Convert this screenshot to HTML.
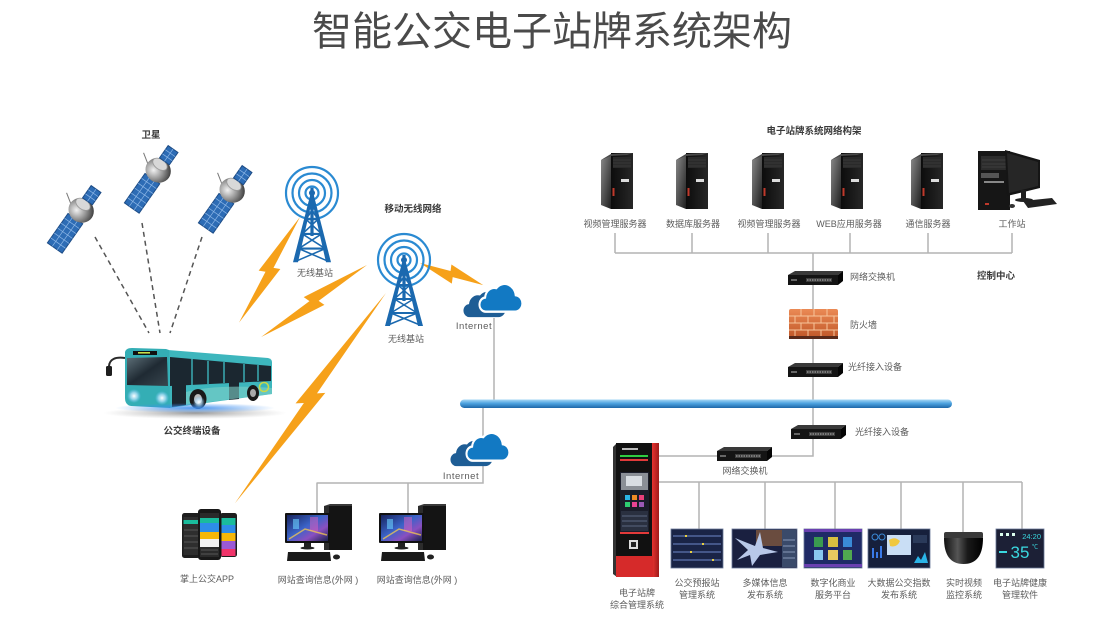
<!DOCTYPE html>
<html><head><meta charset="utf-8">
<style>
html,body{margin:0;padding:0;background:#fff;}
svg{display:block;}
text{font-family:"Liberation Sans","Noto Sans CJK SC",sans-serif;}
.lb{font-size:9px;fill:#5c5c5c;}
.bd{font-size:9.5px;font-weight:bold;fill:#3a3a3a;}
.c{text-anchor:middle;}
</style></head><body>
<svg width="1104" height="637" viewBox="0 0 1104 637" xmlns="http://www.w3.org/2000/svg">
<defs>
<linearGradient id="barG" x1="0" y1="0" x2="0" y2="1"><stop offset="0" stop-color="#a8d8f5"/><stop offset=".45" stop-color="#4da3e0"/><stop offset="1" stop-color="#1d67a8"/></linearGradient>
<linearGradient id="sideG" x1="0" y1="0" x2="1" y2="1"><stop offset="0" stop-color="#8a8a8a"/><stop offset="1" stop-color="#1e1e1e"/></linearGradient>
<linearGradient id="frontG" x1="0" y1="0" x2="1" y2="0"><stop offset="0" stop-color="#0c0c0c"/><stop offset="1" stop-color="#272727"/></linearGradient>
<radialGradient id="satBody" cx=".4" cy=".35" r=".7"><stop offset="0" stop-color="#f2f2f2"/><stop offset=".5" stop-color="#9a9a9a"/><stop offset="1" stop-color="#3a3a3a"/></radialGradient>
<radialGradient id="glow"><stop offset="0" stop-color="#3d8ef0" stop-opacity=".9"/><stop offset="1" stop-color="#3d8ef0" stop-opacity="0"/></radialGradient>
<radialGradient id="hl"><stop offset="0" stop-color="#ffffff" stop-opacity="1"/><stop offset=".5" stop-color="#bfe6ff" stop-opacity=".7"/><stop offset="1" stop-color="#7ac8ff" stop-opacity="0"/></radialGradient>
<radialGradient id="shad"><stop offset="0" stop-color="#444" stop-opacity=".55"/><stop offset="1" stop-color="#888" stop-opacity="0"/></radialGradient>
<linearGradient id="brick" x1="0" y1="0" x2="0" y2="1"><stop offset="0" stop-color="#eb8a55"/><stop offset="1" stop-color="#c2592a"/></linearGradient>
<linearGradient id="scr" x1="0" y1="0" x2="1" y2="1"><stop offset="0" stop-color="#17245e"/><stop offset=".45" stop-color="#3b63c8"/><stop offset=".7" stop-color="#8a4fc0"/><stop offset="1" stop-color="#1a2350"/></linearGradient>
<linearGradient id="wind" x1="0" y1="0" x2="1" y2="1"><stop offset="0" stop-color="#5d6f78"/><stop offset=".5" stop-color="#1f2a33"/><stop offset="1" stop-color="#38464f"/></linearGradient>
<linearGradient id="redS" x1="0" y1="0" x2="1" y2="0"><stop offset="0" stop-color="#e8332f"/><stop offset="1" stop-color="#9e1b1b"/></linearGradient>
<linearGradient id="dome" x1="0" y1="0" x2="1" y2="0"><stop offset="0" stop-color="#111"/><stop offset=".35" stop-color="#555"/><stop offset=".6" stop-color="#1a1a1a"/><stop offset="1" stop-color="#000"/></linearGradient>

<g id="sat">
<line x1="0" y1="-10" x2="8" y2="-22" stroke="#777" stroke-width="1"/>
<rect x="-44" y="-9" width="36" height="18" fill="#2d6cb5" stroke="#1d4c86" stroke-width="1"/>
<path d="M-38,-9V9M-32,-9V9M-26,-9V9M-20,-9V9M-14,-9V9M-44,-3H-8M-44,3H-8" stroke="#8cb6e6" stroke-width=".7"/>
<rect x="-10" y="-2" width="6" height="4" fill="#666"/>
<ellipse cx="2" cy="0" rx="12" ry="13" fill="url(#satBody)"/>
<ellipse cx="8" cy="-2" rx="5" ry="8" fill="#d8d8d8" stroke="#999" stroke-width=".8"/>
<rect x="13" y="-6" width="15" height="12" fill="#2d6cb5" stroke="#1d4c86"/>
<path d="M18,-6V6M23,-6V6M13,0H28" stroke="#8cb6e6" stroke-width=".7"/>
</g>

<g id="rings" fill="none" stroke="#2a8ad2" stroke-width="2.2">
<circle r="26"/><circle r="19.5"/><circle r="13"/><circle r="6.5"/>
</g>
<g id="tw">
<polygon points="-1.5,0 1.5,0 -14,65 -19,65" fill="#1b69af"/>
<polygon points="-1.5,0 1.5,0 19,65 14,65" fill="#1b69af"/>
<rect x="-1.6" y="-6" width="3.2" height="46" fill="#1b69af"/>
<circle cx="0" cy="-1" r="3" fill="#1b69af"/>
<g stroke="#1b69af" stroke-width="2">
<line x1="-3" y1="12" x2="3" y2="12"/><line x1="-6.1" y1="24" x2="6.1" y2="24"/><line x1="-9.6" y1="38" x2="9.6" y2="38"/><line x1="-13.2" y1="52" x2="13.2" y2="52"/>
</g>
<g stroke="#1b69af" stroke-width="1.5">
<line x1="-3" y1="12" x2="6.1" y2="24"/><line x1="3" y1="12" x2="-6.1" y2="24"/>
<line x1="-6.1" y1="24" x2="9.6" y2="38"/><line x1="6.1" y1="24" x2="-9.6" y2="38"/>
<line x1="-9.6" y1="38" x2="13.2" y2="52"/><line x1="9.6" y1="38" x2="-13.2" y2="52"/>
<line x1="-13.2" y1="52" x2="16" y2="64"/><line x1="13.2" y1="52" x2="-16" y2="64"/>
</g>
</g>

<path id="cl" d="M7,26 A6,6 0 0 1 6,14 A9,9 0 0 1 17,6 A11,11 0 0 1 36,12 A7,7 0 0 1 35,26 Z"/>
<path id="bolt" d="M0,0 L2.5,47 L9,45 L0,100 L-2.5,53 L-9,55 Z" fill="#f6a11a"/>

<g id="sv">
<polygon points="0,8 10,2 10,57 0,53" fill="url(#sideG)"/>
<rect x="10" y="1" width="22" height="56" fill="url(#frontG)"/>
<polygon points="0,8 10,2 32,1 26,3 10,4" fill="#4a4a4a"/>
<rect x="12" y="5" width="18" height="11" fill="#2a2a2a"/>
<path d="M12,8H30M12,11H30M12,14H30" stroke="#3e3e3e" stroke-width=".8"/>
<rect x="20" y="27" width="8" height="3" fill="#ddd"/>
<rect x="11.5" y="36" width="2" height="8" fill="#c0392b"/>
</g>

<g id="sw">
<polygon points="2,4 9,0 57,0 52,4" fill="#3a3a3a"/>
<rect x="2" y="4" width="50" height="10" fill="#141414"/>
<polygon points="52,4 57,0 57,10 52,14" fill="#050505"/>
<rect x="20" y="7" width="26" height="4" fill="#3e3e3e"/>
<path d="M21,9H45" stroke="#a0a0a0" stroke-width="1.2" stroke-dasharray="1.5 1"/>
<rect x="5" y="8" width="6" height="2" fill="#666"/>
</g>

<g id="pc">
<rect x="39" y="-7" width="28" height="44" fill="#141414"/>
<polygon points="39,-7 45,-9 67,-9 67,-7" fill="#3a3a3a"/>
<rect x="39" y="-7" width="5" height="44" fill="#2c2c2c"/>
<rect x="0" y="0" width="45" height="30" fill="#111" rx="1"/>
<rect x="2" y="2" width="41" height="26" fill="url(#scr)"/>
<rect x="8" y="6" width="6" height="10" fill="#6ad0ff" opacity=".6"/>
<rect x="25" y="4" width="8" height="14" fill="#e060c0" opacity=".5"/>
<path d="M4,26 L20,16 L42,22" stroke="#ffd24a" stroke-width="1.5" fill="none" opacity=".7"/>
<rect x="19" y="30" width="7" height="4" fill="#222"/>
<ellipse cx="22.5" cy="35" rx="7" ry="1.5" fill="#222"/>
<polygon points="3,39 45,39 46,48 2,48" fill="#1a1a1a"/>
<ellipse cx="51.5" cy="44" rx="3.5" ry="2.5" fill="#222"/>
</g>
</defs>

<rect width="1104" height="637" fill="#fff"/>

<!-- Title -->
<text x="552" y="45" font-size="40" fill="#4a4a4a" class="c">智能公交电子站牌系统架构</text>

<!-- connectors -->
<g stroke="#b3b3b3" stroke-width="1.5" fill="none">
<path d="M615,233V253M692,233V253M768,233V253M850,233V253M928,233V253M1012,233V253M615,253H1012"/>
<path d="M813,253V400"/>
<path d="M494,318V400"/>
<path d="M483,408V436M483,465V483H316.5M317,483V513M408,483V513"/>
<path d="M813,408V456H658"/>
<path d="M658,482H1022M699,482V530M765,482V530M835,482V530M901,482V530M963,482V532M1022,482V530"/>
</g>

<!-- dashed satellite links -->
<g stroke="#555" stroke-width="1.5" stroke-dasharray="5 4">
<line x1="95" y1="237" x2="149" y2="333"/>
<line x1="142" y1="223" x2="160" y2="333"/>
<line x1="202" y1="237" x2="170" y2="333"/>
</g>

<!-- satellites -->
<use href="#sat" transform="translate(80,212) rotate(-55)"/>
<use href="#sat" transform="translate(157,172) rotate(-55)"/>
<use href="#sat" transform="translate(231,192) rotate(-55)"/>

<!-- bolts -->
<use href="#bolt" transform="translate(300,217) rotate(30) scale(1,1.22)"/>
<use href="#bolt" transform="translate(367,265) rotate(55.8) scale(1,1.28)"/>
<use href="#bolt" transform="translate(386,293) rotate(35.7) scale(1,2.59)"/>
<use href="#bolt" transform="translate(420,263) rotate(-70.7) scale(1,0.67)"/>

<!-- towers -->
<use href="#rings" transform="translate(312,193)"/>
<use href="#tw" transform="translate(312,194) scale(1,1.05)"/>
<use href="#rings" transform="translate(404,260)"/>
<use href="#tw" transform="translate(404,261)"/>

<!-- clouds -->
<use href="#cl" fill="#1e5d95" transform="translate(463,289) scale(1,1.08)"/>
<use href="#cl" fill="#1279c3" stroke="#fff" stroke-width="2" transform="translate(479,281) scale(1.02,1.18)"/>
<use href="#cl" fill="#1e5d95" transform="translate(450,438) scale(1,1.08)"/>
<use href="#cl" fill="#1279c3" stroke="#fff" stroke-width="2" transform="translate(466,430) scale(1.02,1.18)"/>

<!-- bar -->
<rect x="460" y="399.5" width="492" height="8.5" rx="4.25" fill="url(#barG)"/>

<!-- bus -->
<ellipse cx="195" cy="413" rx="92" ry="6" fill="url(#shad)"/>
<path d="M125,358 Q110,356 109,366 L109,372" stroke="#2a2a2a" stroke-width="2" fill="none"/>
<rect x="106" y="366" width="6" height="10" rx="1.5" fill="#1e1e1e"/>
<path d="M168,350 L268,358 Q272,359 272,362 L272,394 L169,408 Z" fill="#3db6bd"/>
<path d="M170,357 L271,366 L271,381 L170,386 Z" fill="#1b2730"/>
<g stroke="#3db6bd" stroke-width="1.4">
<line x1="192" y1="359" x2="192" y2="385"/><line x1="208" y1="361" x2="208" y2="384"/>
<line x1="224" y1="362" x2="224" y2="383"/><line x1="244" y1="364" x2="244" y2="382"/><line x1="258" y1="365" x2="258" y2="381"/>
</g>
<path d="M172,358 L186,359 L186,405 L172,407 Z" fill="#1b2730"/>
<path d="M229,363 L239,364 L239,399 L229,400 Z" fill="#1b2730"/>
<path d="M186,392 Q215,384 272,388 L272,394 L186,405 Z" fill="#7fd0c8" opacity=".6"/>
<circle cx="264" cy="387" r="4.5" fill="none" stroke="#c8d84a" stroke-width="1.6"/>
<path d="M125,352 Q126,348 132,348 L166,349 L169,350 L170,408 L131,406 Q125,405 125,398 Z" fill="#34aeb5"/>
<path d="M127,358 L167,357 L168,386 L127,385 Z" fill="url(#wind)"/>
<rect x="133" y="351" width="24" height="4" fill="#111"/>
<rect x="138" y="352" width="12" height="1.6" fill="#c8e04a"/>
<ellipse cx="198" cy="399" rx="8.5" ry="10" fill="#1a1a1a"/>
<ellipse cx="198" cy="399" rx="4" ry="5" fill="#bbb"/>
<ellipse cx="253" cy="393" rx="6" ry="8" fill="#1a1a1a"/>
<ellipse cx="253" cy="393" rx="3" ry="4" fill="#aaa"/>
<ellipse cx="195" cy="408" rx="80" ry="5" fill="url(#glow)"/>
<circle cx="134" cy="396" r="7" fill="url(#hl)"/>
<circle cx="162" cy="398" r="7" fill="url(#hl)"/>
<circle cx="199" cy="402" r="6" fill="url(#hl)"/>

<!-- servers -->
<use href="#sv" transform="translate(601,152)"/>
<use href="#sv" transform="translate(676,152)"/>
<use href="#sv" transform="translate(752,152)"/>
<use href="#sv" transform="translate(831,152)"/>
<use href="#sv" transform="translate(911,152)"/>

<!-- workstation -->
<rect x="978" y="151" width="32" height="59" fill="#161616"/>
<rect x="981" y="156" width="26" height="14" fill="#2c2c2c"/>
<path d="M982,160H1006M982,164H1006M982,167H1006" stroke="#444" stroke-width=".8"/>
<rect x="981" y="173" width="18" height="5" fill="#555"/>
<rect x="984" y="181" width="20" height="2" fill="#888"/>
<rect x="985" y="203" width="4" height="2" fill="#c0392b"/>
<path d="M1005,150 L1040,160 L1040,188 L1007,196 Z" fill="#151515"/>
<path d="M1007,153 L1038,162 L1038,186 L1009,193 Z" fill="#262626"/>
<rect x="1021" y="190" width="5" height="9" fill="#1e1e1e"/>
<ellipse cx="1024" cy="200" rx="9" ry="2" fill="#222"/>
<polygon points="1023,201 1052,198 1057,204 1028,208" fill="#222"/>
<ellipse cx="1012" cy="206" rx="3" ry="2" fill="#333"/>

<!-- control center devices -->
<use href="#sw" transform="translate(786,271)"/>
<rect x="789" y="309" width="49" height="28" rx="2" fill="url(#brick)"/>
<g stroke="#f7c49a" stroke-width="1">
<path d="M789,316H838M789,323H838M789,330H838"/>
<path d="M801,309V316M814,309V316M827,309V316M795,316V323M808,316V323M821,316V323M834,316V323M801,323V330M814,323V330M827,323V330M795,330V337M808,330V337M821,330V337M834,330V337"/>
</g>
<rect x="789" y="336" width="49" height="3" fill="#5a2a1a"/>
<use href="#sw" transform="translate(786,363)"/>
<use href="#sw" transform="translate(789,425)"/>
<use href="#sw" transform="translate(715,447)"/>

<!-- kiosk -->
<polygon points="613,447 617,443 617,577 613,574" fill="#333"/>
<rect x="616" y="443" width="38" height="134" fill="#111"/>
<rect x="652" y="443" width="7" height="134" fill="url(#redS)"/>
<rect x="616" y="556" width="37" height="21" fill="#d62a2a"/>
<rect x="622" y="448" width="16" height="2" fill="#bbb"/>
<rect x="620" y="455" width="28" height="2" fill="#2ecc40"/>
<rect x="620" y="459" width="28" height="2" fill="#e23a3a"/>
<rect x="620" y="472" width="29" height="62" fill="#1a1d2a"/>
<rect x="621" y="473" width="27" height="17" fill="#8a8f96"/>
<rect x="626" y="476" width="16" height="10" fill="#d8dde2"/>
<g>
<rect x="625" y="495" width="5" height="5" fill="#2ab4e8"/><rect x="632" y="495" width="5" height="5" fill="#f08a24"/><rect x="639" y="495" width="5" height="5" fill="#e8407a"/>
<rect x="625" y="502" width="5" height="5" fill="#2ecc71"/><rect x="632" y="502" width="5" height="5" fill="#e84393"/><rect x="639" y="502" width="5" height="5" fill="#9b59b6"/>
</g>
<rect x="621" y="511" width="27" height="20" fill="#2a3040"/>
<path d="M622,516H647M622,521H647M622,526H647" stroke="#5a6680" stroke-width="1"/>
<rect x="620" y="532" width="29" height="2" fill="#e23a3a"/>
<rect x="629" y="540" width="9" height="9" fill="#ddd"/>
<rect x="631" y="542" width="5" height="5" fill="#222"/>

<!-- bottom images -->
<rect x="671" y="529" width="52" height="39" fill="#1a2446" stroke="#6a7898" stroke-width=".8"/>
<g stroke="#5d74b0" stroke-width="1.2">
<path d="M673,536H721M673,544H721M673,552H721M673,560H721"/>
</g>
<g fill="#e8d040"><rect x="685" y="535" width="2" height="2"/><rect x="702" y="543" width="2" height="2"/><rect x="690" y="551" width="2" height="2"/><rect x="712" y="559" width="2" height="2"/></g>

<rect x="732" y="529" width="65" height="39" fill="#1a2040" stroke="#6a7898" stroke-width=".8"/>
<rect x="756" y="530" width="26" height="16" fill="#a06a40" opacity=".6"/>
<polygon points="735,538 755,546 760,532 763,548 778,552 760,555 752,566 750,555 737,560 748,550" fill="#b8c8e8"/>
<rect x="782" y="530" width="14" height="37" fill="#3a4a6a"/>
<path d="M783,540H795M783,546H795M783,552H795M783,558H795" stroke="#8898b8" stroke-width="1"/>

<rect x="804" y="529" width="58" height="39" fill="#1f2a66" stroke="#6a7898" stroke-width=".8"/>
<rect x="804" y="529" width="58" height="3" fill="#6a40b0"/>
<rect x="814" y="537" width="9" height="10" fill="#3a9a50"/><rect x="828" y="537" width="10" height="10" fill="#d8c040"/><rect x="843" y="537" width="9" height="10" fill="#3a8ad8"/>
<rect x="814" y="550" width="9" height="10" fill="#8ac8f0"/><rect x="828" y="550" width="10" height="10" fill="#e8c860"/><rect x="843" y="550" width="9" height="10" fill="#50a850"/>
<rect x="804" y="564" width="58" height="3" fill="#6a40b0"/>

<rect x="868" y="529" width="62" height="39" fill="#16203c" stroke="#6a7898" stroke-width=".8"/>
<rect x="887" y="535" width="24" height="20" fill="#c9def5"/>
<path d="M889,540 Q895,536 900,541 Q897,548 890,546 Z" fill="#f0c840"/>
<circle cx="875" cy="537" r="3" fill="none" stroke="#3a8ad8"/><circle cx="882" cy="537" r="3" fill="none" stroke="#3a8ad8"/>
<rect x="872" y="548" width="2" height="10" fill="#3a7ae8"/><rect x="876" y="552" width="2" height="6" fill="#3a7ae8"/><rect x="880" y="546" width="2" height="12" fill="#3a7ae8"/>
<path d="M914,563 L918,556 L921,560 L925,552 L928,563 Z" fill="#2ab4e8"/>
<rect x="913" y="535" width="14" height="8" fill="#2a3a5a"/>

<rect x="944" y="532" width="39" height="7" rx="2" fill="#3a3a3a"/>
<path d="M944,538 Q944,564 963.5,564 Q983,564 983,538 Z" fill="url(#dome)"/>

<rect x="996" y="529" width="48" height="39" fill="#1c2036" stroke="#6a7898" stroke-width=".8"/>
<text x="1041" y="539" font-size="7.5" fill="#3ad8e0" text-anchor="end">24:20</text>
<g fill="#dfe"><rect x="1000" y="533" width="3" height="3"/><rect x="1006" y="533" width="3" height="3"/><rect x="1012" y="533" width="3" height="3"/></g>
<text x="1020" y="558" font-size="17" fill="#3ad8e0" text-anchor="middle">35</text>
<text x="1032" y="549" font-size="6" fill="#3ad8e0">℃</text>
<rect x="999" y="551" width="8" height="2" fill="#3ad8e0"/>

<!-- phones -->
<rect x="182" y="513" width="18" height="45" rx="2.5" fill="#1e1e1e"/>
<rect x="183.5" y="517" width="15" height="38" fill="#2e2e2e"/>
<rect x="183.5" y="520" width="15" height="4" fill="#1abc9c"/>
<path d="M184,530H198M184,536H198M184,542H198M184,548H198" stroke="#555" stroke-width="1"/>
<rect x="220" y="513" width="17" height="44" rx="2.5" fill="#1e1e1e"/>
<rect x="221.5" y="518" width="14" height="7" fill="#1abc9c"/>
<rect x="221.5" y="525" width="14" height="8" fill="#2e8de8"/>
<rect x="221.5" y="533" width="14" height="8" fill="#f5b70a"/>
<rect x="221.5" y="541" width="14" height="8" fill="#9b59d6"/>
<rect x="221.5" y="549" width="14" height="7" fill="#f0346a"/>
<rect x="198" y="509" width="23" height="51" rx="3" fill="#181818"/>
<rect x="200" y="513" width="19" height="44" fill="#2a2a2a"/>
<rect x="200" y="518" width="19" height="5" fill="#1abc9c"/>
<rect x="200" y="523" width="19" height="9" fill="#2e8de8"/>
<rect x="200" y="532" width="19" height="7" fill="#f5b70a"/>
<rect x="200" y="539" width="19" height="8" fill="#f2f2f2"/>
<path d="M201,550H218M201,554H218" stroke="#555" stroke-width="1"/>

<!-- PCs -->
<use href="#pc" transform="translate(285,513)"/>
<use href="#pc" transform="translate(379,513)"/>

<!-- labels -->
<text x="151" y="138" class="bd c">卫星</text>
<text x="413" y="212" class="bd c">移动无线网络</text>
<text x="192" y="434" class="bd c">公交终端设备</text>
<text x="814" y="134" class="bd c">电子站牌系统网络构架</text>
<text x="996" y="279" class="bd c">控制中心</text>

<text x="315" y="276" class="lb c">无线基站</text>
<text x="406" y="342" class="lb c">无线基站</text>
<text x="474" y="329" font-size="9.5" fill="#5c5c5c" text-anchor="middle" letter-spacing=".5">Internet</text>
<text x="461" y="479" font-size="9.5" fill="#5c5c5c" text-anchor="middle" letter-spacing=".5">Internet</text>

<text x="615" y="227" class="lb c">视频管理服务器</text>
<text x="693" y="227" class="lb c">数据库服务器</text>
<text x="769" y="227" class="lb c">视频管理服务器</text>
<text x="849" y="227" class="lb c">WEB应用服务器</text>
<text x="928" y="227" class="lb c">通信服务器</text>
<text x="1012" y="227" class="lb c">工作站</text>

<text x="850" y="280" class="lb">网络交换机</text>
<text x="850" y="328" class="lb">防火墙</text>
<text x="848" y="370" class="lb">光纤接入设备</text>
<text x="855" y="435" class="lb">光纤接入设备</text>
<text x="745" y="474" class="lb c">网络交换机</text>

<text x="207" y="582" class="lb c">掌上公交APP</text>
<text x="318" y="583" class="lb c">网站查询信息(外网 )</text>
<text x="417" y="583" class="lb c">网站查询信息(外网 )</text>

<text x="637" y="596" class="lb c">电子站牌</text>
<text x="637" y="608" class="lb c">综合管理系统</text>

<text x="697" y="586" class="lb c">公交预报站</text>
<text x="697" y="598" class="lb c">管理系统</text>
<text x="765" y="586" class="lb c">多媒体信息</text>
<text x="765" y="598" class="lb c">发布系统</text>
<text x="833" y="586" class="lb c">数字化商业</text>
<text x="833" y="598" class="lb c">服务平台</text>
<text x="899" y="586" class="lb c">大数据公交指数</text>
<text x="899" y="598" class="lb c">发布系统</text>
<text x="964" y="586" class="lb c">实时视频</text>
<text x="964" y="598" class="lb c">监控系统</text>
<text x="1020" y="586" class="lb c">电子站牌健康</text>
<text x="1020" y="598" class="lb c">管理软件</text>
</svg>
</body></html>
